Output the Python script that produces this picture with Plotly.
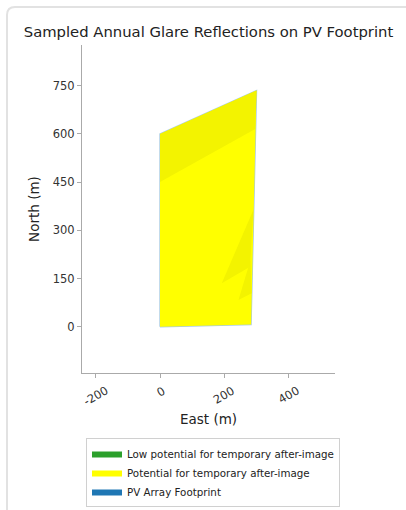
import plotly.graph_objects as go

# Data (metres)
footprint_east = [0, 0, 300, 283, 0]
footprint_north = [0, 600, 735, 7, 0]

# Glare sampled region: "Potential for temporary after-image" (covers footprint)
glare_east = [0, 0, 300, 283, 0]
glare_north = [0, 600, 735, 7, 0]

# Slightly denser sample shading inside the glare region
shade_top_east = [0, 0, 300, 296, 0]
shade_top_north = [450, 600, 735, 615, 450]
shade_r1_east = [290, 192, 280, 290]
shade_r1_north = [363, 135, 187, 363]
shade_r2_east = [281, 244, 285, 281]
shade_r2_north = [207, 83, 104, 207]

x_ticks = [-200, 0, 200, 400]
x_tick_labels = ["-200", "0", "200", "400"]
y_ticks = [0, 150, 300, 450, 600, 750]

GREEN = "#2ca02c"
YELLOW = "#ffff00"
SHADE = "#f3f300"
BLUE = "#1f77b4"

fig = go.Figure()

fig.add_trace(go.Scatter(
    x=[None], y=[None], mode="lines", fill="toself",
    fillcolor=GREEN, line=dict(color=GREEN, width=0),
    name="Low potential for temporary after-image", showlegend=True,
))
fig.add_trace(go.Scatter(
    x=footprint_east, y=footprint_north, mode="lines", fill="toself",
    fillcolor="#a9cbe3", line=dict(color="#a9cbe3", width=1.4),
    name="PV Array Footprint", showlegend=False, hoverinfo="skip",
))
fig.add_trace(go.Scatter(
    x=glare_east, y=glare_north, mode="lines", fill="toself",
    fillcolor=YELLOW, line=dict(color=YELLOW, width=0),
    name="Potential for temporary after-image", showlegend=True,
))
for ex, ny in [(shade_top_east, shade_top_north), (shade_r1_east, shade_r1_north),
               (shade_r2_east, shade_r2_north)]:
    fig.add_trace(go.Scatter(
        x=ex, y=ny, mode="lines", fill="toself", fillcolor=SHADE,
        line=dict(color=SHADE, width=0), showlegend=False, hoverinfo="skip",
    ))
# Legend entry for footprint
fig.add_trace(go.Scatter(
    x=[None], y=[None], mode="lines", fill="toself",
    fillcolor=BLUE, line=dict(color=BLUE, width=0),
    name="PV Array Footprint", showlegend=True,
))

# Plot-area geometry (px) for the card outline
L, R, T, B = 82, 335, 45, 373
W, H = R - L, B - T


def px(x):
    return (x - L) / W


def py(y):
    return (B - y) / H


card_path = (f"M {px(7)} {py(512)} L {px(7)} {py(15)} "
             f"Q {px(7)} {py(7)} {px(15)} {py(7)} L {px(410)} {py(7)}")

annotations = []
for v, lab in zip(x_ticks, x_tick_labels):
    annotations.append(dict(
        x=v, xref="x", y=py(381), yref="paper", text=lab, showarrow=False,
        textangle=-30, xanchor="center", yanchor="top",
        font=dict(size=11.5, color="#333333"),
    ))
annotations.append(dict(
    x=0.5, xref="paper", y=py(419), yref="paper", text="East (m)",
    showarrow=False, xanchor="center", yanchor="middle",
    font=dict(size=13.5, color="#222222"),
))

fig.update_layout(
    width=406, height=510,
    margin=dict(l=L, r=406 - R, t=T, b=510 - B, autoexpand=False),
    paper_bgcolor="white", plot_bgcolor="white",
    font=dict(family="DejaVu Sans", color="#333333", size=11.5),
    title=dict(text="Sampled Annual Glare Reflections on PV Footprint",
               xref="paper", x=0.5, xanchor="center",
               y=1 - 32 / 510, yanchor="middle",
               font=dict(size=14.8, color="#222222")),
    showlegend=True,
    legend=dict(x=px(86), y=py(438), xanchor="left", yanchor="top",
                bgcolor="white", bordercolor="#d0d0d0", borderwidth=1,
                font=dict(size=10.3, color="#222222"), tracegroupgap=0,
                itemwidth=30, traceorder="normal"),
    shapes=[dict(type="path", path=card_path, xref="paper", yref="paper",
                 line=dict(color="#e2e2e2", width=2), layer="below")],
    annotations=annotations,
)

fig.update_xaxes(
    range=[-242.5, 544], tickvals=x_ticks, showticklabels=False,
    showgrid=False, zeroline=False,
    showline=True, linecolor="#aaaaaa", linewidth=1,
    ticks="outside", ticklen=4, tickcolor="#aaaaaa",
)
fig.update_yaxes(
    range=[-144, 876.7], tickvals=y_ticks, ticktext=[str(v) for v in y_ticks],
    showgrid=False, zeroline=False,
    showline=True, linecolor="#aaaaaa", linewidth=1,
    ticks="outside", ticklen=4, tickcolor="#aaaaaa",
    title=dict(text="North (m)", font=dict(size=13.5, color="#222222"), standoff=10),
)

fig.write_html("out.html", config={"displayModeBar": False},
               post_script="document.body.style.margin='0';")
